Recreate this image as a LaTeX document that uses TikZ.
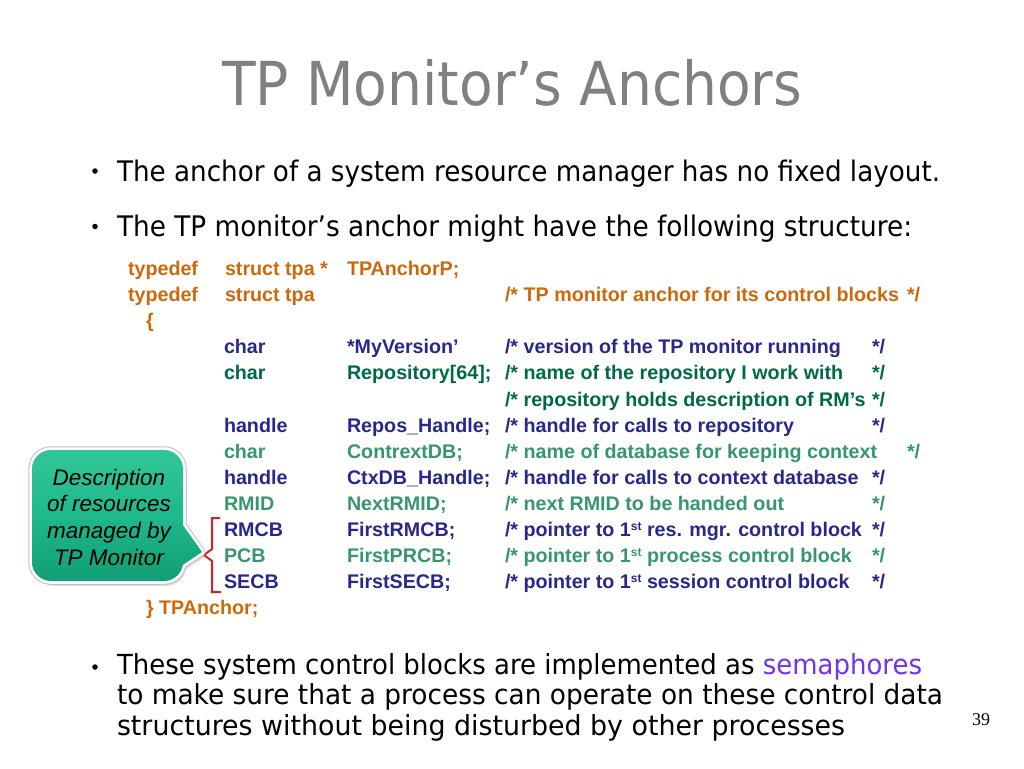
\documentclass[tikz,border=0pt]{standalone}
\usepackage{fontspec}
\setmainfont{Liberation Sans}
\newfontfamily\bulletfont{DejaVu Sans}
\newfontfamily\numfont{Liberation Serif}
\definecolor{cOrange}{RGB}{205,105,10}
\definecolor{cNavy}{RGB}{40,40,140}
\definecolor{cDGreen}{RGB}{0,105,70}
\definecolor{cLGreen}{RGB}{55,150,110}
\definecolor{cPurple}{RGB}{115,50,235}
\definecolor{cTitle}{RGB}{128,128,128}
\definecolor{cRed}{RGB}{220,30,30}
\definecolor{cTealTop}{RGB}{50,198,152}
\definecolor{cTealMid}{RGB}{30,185,140}
\definecolor{cTealBot}{RGB}{18,158,116}
\begin{document}
\begin{tikzpicture}[x=1pt,y=-1pt,
  every node/.style={inner sep=0pt, outer sep=0pt},
  code/.style={anchor=base west, font=\bfseries\fontsize{19.7}{22}\selectfont},
  bline/.style={anchor=base west, text=black},
  bdot/.style={circle, fill=black, minimum size=5.5pt},
  calltext/.style={anchor=base, font=\itshape\fontsize{22.5}{26}\selectfont},
  brace/.style={draw=cRed, line width=2pt, line join=miter}
]
\useasboundingbox (0,0) rectangle (1024,768);
\fill[white] (0,0) rectangle (1024,768);

% title
\node[anchor=base west, text=cTitle] (title) at (222,105)
  {\resizebox{580pt}{46pt}{\bulletfont TP Monitor’s Anchors}};

% bullets
\node[bdot] (d1) at (95,171) {};
\node[bline] (l1) at (117,181) {\resizebox{823pt}{21.5pt}{\bulletfont The anchor of a system resource manager has no fixed layout.}};
\node[bdot] (d2) at (95,226.5) {};
\node[bline] (l2) at (117,236.5) {\resizebox{795pt}{21.5pt}{\bulletfont The TP monitor’s anchor might have the following structure:}};

% code rows
\node[code,text=cOrange] (r1a) at (128,275.5) {typedef};
\node[code,text=cOrange] (r1b) at (225,275.5) {struct tpa *};
\node[code,text=cOrange] (r1c) at (347,275.5) {TPAnchorP;};

\node[code,text=cOrange] (r2a) at (128,301.6) {typedef};
\node[code,text=cOrange] (r2b) at (225,301.6) {struct tpa};
\node[code,text=cOrange] (r2d) at (505,301.6) {/* TP monitor anchor for its control blocks};
\node[code,text=cOrange] (r2e) at (907,301.6) {*/};

\node[code,text=cOrange] (r3a) at (146,327.7) {\{};

\node[code,text=cNavy] (r4b) at (224,353.8) {char};
\node[code,text=cNavy] (r4c) at (347,353.8) {*MyVersion’};
\node[code,text=cNavy] (r4d) at (505,353.8) {/* version of the TP monitor running};
\node[code,text=cNavy] (r4e) at (872,353.8) {*/};

\node[code,text=cDGreen] (r5b) at (224,379.9) {char};
\node[code,text=cDGreen] (r5c) at (347,379.9) {Repository[64];};
\node[code,text=cDGreen] (r5d) at (505,379.9) {/* name of the repository I work with};
\node[code,text=cDGreen] (r5e) at (872,379.9) {*/};

\node[code,text=cDGreen] (r6d) at (505,406) {/* repository holds description of RM’s};
\node[code,text=cDGreen] (r6e) at (872,406) {*/};

\node[code,text=cNavy] (r7b) at (224,432.1) {handle};
\node[code,text=cNavy] (r7c) at (347,432.1) {Repos\_Handle;};
\node[code,text=cNavy] (r7d) at (505,432.1) {/* handle for calls to repository};
\node[code,text=cNavy] (r7e) at (872,432.1) {*/};

\node[code,text=cLGreen] (r8b) at (224,458.2) {char};
\node[code,text=cLGreen] (r8c) at (347,458.2) {ContrextDB;};
\node[code,text=cLGreen] (r8d) at (505,458.2) {/* name of database for keeping context};
\node[code,text=cLGreen] (r8e) at (907,458.2) {*/};

\node[code,text=cNavy] (r9b) at (224,484.3) {handle};
\node[code,text=cNavy] (r9c) at (347,484.3) {CtxDB\_Handle;};
\node[code,text=cNavy] (r9d) at (505,484.3) {/* handle for calls to context database};
\node[code,text=cNavy] (r9e) at (872,484.3) {*/};

\node[code,text=cLGreen] (r10b) at (224,510.4) {RMID};
\node[code,text=cLGreen] (r10c) at (347,510.4) {NextRMID;};
\node[code,text=cLGreen] (r10d) at (505,510.4) {/* next RMID to be handed out};
\node[code,text=cLGreen] (r10e) at (872,510.4) {*/};

\node[code,text=cNavy] (r11b) at (224,536.5) {RMCB};
\node[code,text=cNavy] (r11c) at (347,536.5) {FirstRMCB;};
\node[code,text=cNavy] (r11d) at (505,536.5) {/* pointer to 1{\fontsize{12}{12}\selectfont\raisebox{6pt}{st}} res. mgr. control block};
\node[code,text=cNavy] (r11e) at (872,536.5) {*/};

\node[code,text=cLGreen] (r12b) at (224,562.6) {PCB};
\node[code,text=cLGreen] (r12c) at (347,562.6) {FirstPRCB;};
\node[code,text=cLGreen] (r12d) at (505,562.6) {/* pointer to 1{\fontsize{12}{12}\selectfont\raisebox{6pt}{st}} process control block};
\node[code,text=cLGreen] (r12e) at (872,562.6) {*/};

\node[code,text=cNavy] (r13b) at (224,588.7) {SECB};
\node[code,text=cNavy] (r13c) at (347,588.7) {FirstSECB;};
\node[code,text=cNavy] (r13d) at (505,588.7) {/* pointer to 1{\fontsize{12}{12}\selectfont\raisebox{6pt}{st}} session control block};
\node[code,text=cNavy] (r13e) at (872,588.7) {*/};

\node[code,text=cOrange] (r14a) at (146,614.8) {\} TPAnchor;};

% red bracket
\draw[brace] (220,518) -- (212,518) -- (212,549) -- (204,555) -- (212,561) -- (212,592) -- (221,592);

% callout: shadow, outline, white border, shaded fill
\def\calloutstroke{[rounded corners=19pt] (32,450) rectangle (183,581) [sharp corners] (180,521) -- (202,552) -- (172,572) -- cycle}
\def\calloutfill{[rounded corners=19pt] (32,450) rectangle (183,581) [sharp corners] (180,521) -- (202,552) -- (172,572) -- cycle (180,521) -- (202,552) -- (172,572) -- cycle}
\fill[black, opacity=0.12, shift={(3,5)}] \calloutfill;
\fill[black, opacity=0.10, shift={(2,3)}] \calloutfill;
\draw[black!25, line width=7.5pt, line join=round] \calloutstroke;
\draw[white, line width=5.5pt, line join=round] \calloutstroke;
\shade[top color=cTealTop, bottom color=cTealBot, middle color=cTealMid] \calloutfill;
\node[calltext] (c1) at (109,485) {Description};
\node[calltext] (c2) at (109,511.7) {of resources};
\node[calltext] (c3) at (109,538.4) {managed by};
\node[calltext] (c4) at (109,565) {TP Monitor};

% last bullet
\node[bdot] (d3) at (95,667) {};
\node[bline] (l3) at (117,674.5) {\resizebox{805pt}{21pt}{\bulletfont These system control blocks are implemented as \textcolor{cPurple}{semaphores}}};
\node[bline] (l4) at (117,704.5) {\resizebox{826pt}{21pt}{\bulletfont to make sure that a process can operate on these control data}};
\node[bline] (l5) at (117,735) {\resizebox{728pt}{21pt}{\bulletfont structures without being disturbed by other processes}};

% page number
\node[anchor=base west, font=\numfont\fontsize{18}{20}\selectfont] (pg) at (972,725) {39};
\end{tikzpicture}
\end{document}
